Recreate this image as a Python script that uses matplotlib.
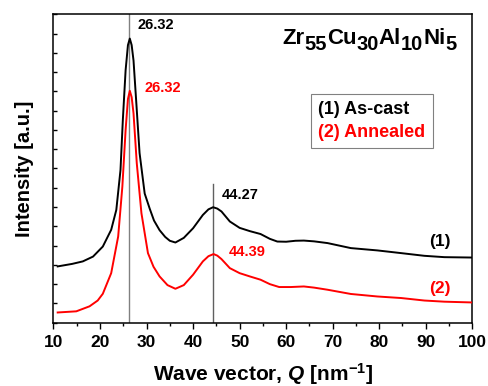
import matplotlib
matplotlib.use("Agg")
import matplotlib.pyplot as plt
from matplotlib.ticker import MultipleLocator
from matplotlib.lines import Line2D

plt.rcParams['font.family'] = ['Liberation Sans', 'DejaVu Sans']
plt.rcParams['font.weight'] = 'bold'
plt.rcParams['axes.labelweight'] = 'bold'
plt.rcParams['mathtext.fontset'] = 'custom'
plt.rcParams['mathtext.rm'] = 'Liberation Sans:bold'
plt.rcParams['mathtext.bf'] = 'Liberation Sans:bold'
plt.rcParams['mathtext.it'] = 'Liberation Sans:bold:italic'

# curve (1) as-cast
q_cast = [10.9, 14.0, 16.3, 18.5, 20.6, 22.4, 23.5, 24.4, 24.9, 25.5, 26.0, 26.4,
          26.8, 27.2, 27.8, 28.5, 29.6, 30.7, 31.6, 32.8, 34.0, 35.0, 36.2, 38.0,
          40.0, 42.1, 43.3, 44.3, 45.2, 46.1, 47.9, 50.0, 52.2, 54.5, 56.5, 58.1,
          60.0, 62.0, 63.8, 66.0, 68.9, 73.9, 79.6, 84.7, 89.7, 94.0, 100.0]
i_cast = [2.92, 3.05, 3.18, 3.43, 3.95, 4.82, 5.85, 7.92, 10.5, 13.1, 14.4, 14.74,
          14.4, 13.6, 11.4, 8.8, 6.7, 5.9, 5.3, 4.8, 4.45, 4.25, 4.16, 4.4,
          4.9, 5.59, 5.88, 5.99, 5.92, 5.77, 5.25, 4.92, 4.75, 4.6, 4.35, 4.21,
          4.2, 4.25, 4.26, 4.22, 4.13, 3.87, 3.75, 3.61, 3.47, 3.4, 3.38]

# curve (2) annealed
q_ann = [10.9, 14.9, 17.75, 19.5, 20.6, 22.4, 23.9, 24.8, 25.5, 26.0, 26.4, 26.8,
         27.2, 27.9, 28.9, 30.3, 31.5, 32.8, 34.5, 36.2, 38.0, 40.0, 42.1, 43.3,
         44.4, 45.2, 46.1, 47.9, 50.0, 52.2, 54.5, 56.5, 58.5, 61.0, 63.8, 66.0,
         68.9, 73.9, 79.6, 84.7, 89.7, 94.0, 100.0]
i_ann = [0.53, 0.59, 0.85, 1.15, 1.5, 2.57, 4.47, 7.06, 10.0, 11.6, 12.03, 11.7,
         10.86, 8.27, 5.68, 3.61, 2.9, 2.4, 1.95, 1.76, 1.95, 2.49, 3.18, 3.45,
         3.56, 3.48, 3.3, 2.83, 2.57, 2.4, 2.23, 2.0, 1.85, 1.85, 1.88, 1.82,
         1.71, 1.49, 1.36, 1.28, 1.15, 1.09, 1.05]

peak1 = 26.32
peak2_cast = 44.27
peak2_ann = 44.39

formula = [('Zr', False), ('55', True), ('Cu', False), ('30', True),
           ('Al', False), ('10', True), ('Ni', False), ('5', True)]

fig = plt.figure(figsize=(4.88, 3.86), dpi=100)
ax = fig.add_axes([0.1096, 0.164, 0.8582, 0.799])

ax.axvline(peak1, color='#808080', lw=1.0, zorder=1)
ax.plot([peak2_cast, peak2_cast], [0, 7.2], color='#606060', lw=1.0, zorder=1)

ax.plot(q_cast, i_cast, color='black', lw=1.4, zorder=3)
ax.plot(q_ann, i_ann, color='red', lw=1.4, zorder=3)

ax.text(peak1 + 1.8, 15.43, '26.32', color='black', fontsize=10.5, va='center')
ax.text(peak1 + 3.3, 12.17, '26.32', color='red', fontsize=10.5, va='center')
ax.text(peak2_cast + 1.9, 6.63, '44.27', color='black', fontsize=10.5, va='center')
ax.text(peak2_ann + 3.3, 3.69, '44.39', color='red', fontsize=10.5, va='center')

ax.text(93.1, 4.21, '(1)', color='black', fontsize=12.5, ha='center', va='center')
ax.text(93.1, 1.76, '(2)', color='red', fontsize=12.5, ha='center', va='center')

# formula with large subscripts, pieces chained left to right
prev = ax.text(0.546, 0.904, formula[0][0], transform=ax.transAxes,
               fontsize=16, va='baseline')
for txt, sub in formula[1:]:
    prev = ax.annotate(txt, xy=(1, 0), xycoords=prev,
                       xytext=(0, -4 if sub else 4), textcoords='offset points',
                       fontsize=14.5 if sub else 16, va='bottom', ha='left')

handles = [Line2D([], [], alpha=0), Line2D([], [], alpha=0)]
leg = ax.legend(handles, ['(1) As-cast', '(2) Annealed'], loc='upper left',
                bbox_to_anchor=(0.615, 0.7416), handlelength=0, handletextpad=0,
                fontsize=13, labelcolor=['black', 'red'], fancybox=False,
                edgecolor='#808080', framealpha=1, borderpad=0.4, labelspacing=0.3,
                borderaxespad=0)
leg.get_frame().set_linewidth(0.8)

ax.set_xlim(10, 100)
ax.set_ylim(0, 16)
ax.xaxis.set_major_locator(MultipleLocator(10))
ax.xaxis.set_minor_locator(MultipleLocator(5))
ax.yaxis.set_major_locator(MultipleLocator(1))
ax.tick_params(axis='x', which='major', direction='out', length=4.5, width=1.0,
               labelsize=12.5, pad=4)
ax.tick_params(axis='x', which='minor', direction='out', length=2.5, width=1.0)
ax.tick_params(axis='y', which='major', direction='in', length=3, width=1.0,
               labelleft=False)
for s in ax.spines.values():
    s.set_linewidth(1.1)

ax.set_xlabel(r'Wave vector, $Q$ [nm$^{-1}$]', fontsize=15, labelpad=8)
ax.set_ylabel('Intensity [a.u.]', fontsize=14.5, labelpad=14)

fig.savefig('out.png', dpi=100)
